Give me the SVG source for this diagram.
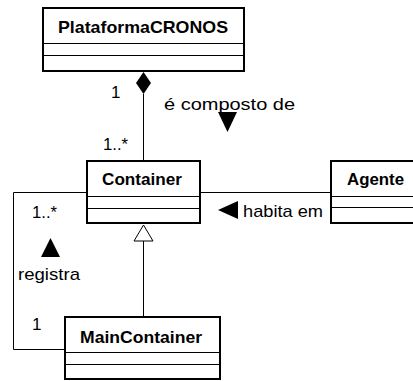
<svg xmlns="http://www.w3.org/2000/svg" width="413" height="381" viewBox="0 0 413 381">
<style>
.box{fill:#fff;stroke:#000;stroke-width:2}
.div{stroke:#000;stroke-width:1}
.name{font-family:"Liberation Sans",Arial,sans-serif;font-weight:bold;font-size:17px;fill:#000;text-anchor:middle}
.lbl{font-family:"Liberation Sans",Arial,sans-serif;font-size:17px;fill:#000}
.ln{fill:none;stroke:#000;stroke-width:1}
</style>
<rect width="413" height="381" fill="#fff"/>
<g id="connectors">
<line class="ln" x1="143.5" y1="94" x2="143.5" y2="161"/>
<path d="M143.5,72 L151,83 L143.5,94 L136,83 Z" fill="#000"/>
<text class="lbl" x="111" y="98">1</text>
<text class="lbl" x="103" y="150" textLength="25" lengthAdjust="spacingAndGlyphs">1..*</text>
<text class="lbl" x="164" y="110" textLength="131" lengthAdjust="spacingAndGlyphs">é composto de</text>
<path d="M218,112 L237,112 L227.5,132 Z" fill="#000"/>
<line class="ln" x1="200" y1="192.5" x2="331" y2="192.5"/>
<text class="lbl" x="243" y="217" textLength="80" lengthAdjust="spacingAndGlyphs">habita em</text>
<path d="M218,210 L238,201 L238,219 Z" fill="#000"/>
<path class="ln" d="M87,192.5 H13.5 V349.5 H65"/>
<text class="lbl" x="32" y="218" textLength="25" lengthAdjust="spacingAndGlyphs">1..*</text>
<path d="M50.5,238 L60,257 L41,257 Z" fill="#000"/>
<text class="lbl" x="18" y="280" textLength="62" lengthAdjust="spacingAndGlyphs">registra</text>
<text class="lbl" x="32" y="330">1</text>
<line class="ln" x1="143.5" y1="241" x2="143.5" y2="317"/>
<path d="M143.5,225 L153,241 L134,241 Z" fill="#fff" stroke="#000" stroke-width="1"/>
</g>
<g id="PlataformaCRONOS">
<rect class="box" x="43" y="8" width="201" height="63"/>
<line class="div" x1="43" y1="43.5" x2="244" y2="43.5"/>
<line class="div" x1="43" y1="55.5" x2="244" y2="55.5"/>
<text class="name" x="143" y="33" textLength="170" lengthAdjust="spacingAndGlyphs">PlataformaCRONOS</text>
</g>
<g id="Container">
<rect class="box" x="87" y="161" width="113" height="62"/>
<line class="div" x1="87" y1="196.5" x2="200" y2="196.5"/>
<line class="div" x1="87" y1="208.5" x2="200" y2="208.5"/>
<text class="name" x="142" y="185" textLength="80" lengthAdjust="spacingAndGlyphs">Container</text>
</g>
<g id="Agente">
<rect class="box" x="331" y="161" width="90" height="62"/>
<line class="div" x1="331" y1="196.5" x2="421" y2="196.5"/>
<line class="div" x1="331" y1="207.5" x2="421" y2="207.5"/>
<text class="name" x="375.5" y="185" textLength="57" lengthAdjust="spacingAndGlyphs">Agente</text>
</g>
<g id="MainContainer">
<rect class="box" x="65" y="317" width="155" height="62"/>
<line class="div" x1="65" y1="352.5" x2="220" y2="352.5"/>
<line class="div" x1="65" y1="364.5" x2="220" y2="364.5"/>
<text class="name" x="141" y="343" textLength="122" lengthAdjust="spacingAndGlyphs">MainContainer</text>
</g>
</svg>
